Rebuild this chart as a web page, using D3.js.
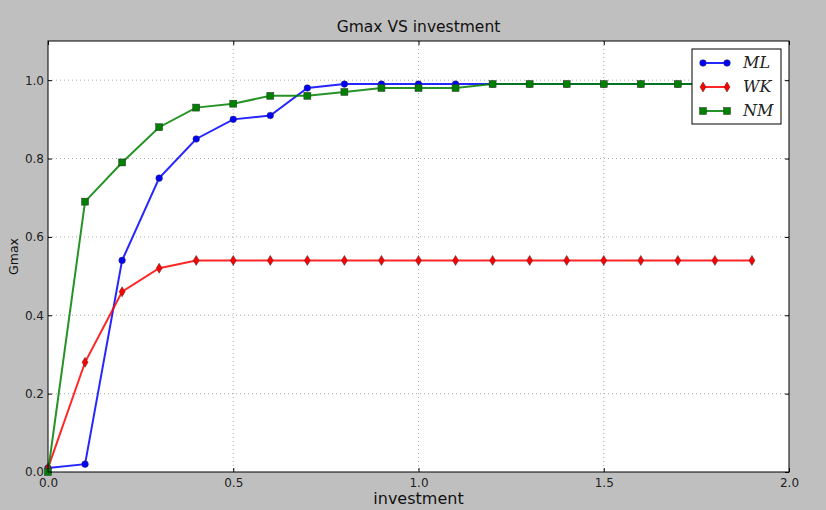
<!DOCTYPE html>
<html><head><meta charset="utf-8">
<script src="https://cdn.jsdelivr.net/npm/d3@7"></script>
<style>body{margin:0;background:#bfbfbf;}svg{display:block;}</style>
</head><body>
<svg id="c" width="826" height="510"></svg>
<script>
const xs = [0,0.1,0.2,0.3,0.4,0.5,0.6,0.7,0.8,0.9,1.0,1.1,1.2,1.3,1.4,1.5,1.6,1.7,1.8,1.9];
const ML = [0.01,0.02,0.54,0.75,0.85,0.90,0.91,0.98,0.99,0.99,0.99,0.99,0.99,0.99,0.99,0.99,0.99,0.99,0.99,0.99];
const WK = [0.01,0.28,0.46,0.52,0.54,0.54,0.54,0.54,0.54,0.54,0.54,0.54,0.54,0.54,0.54,0.54,0.54,0.54,0.54,0.54];
const NM = [0.00,0.69,0.79,0.88,0.93,0.94,0.96,0.96,0.97,0.98,0.98,0.98,0.99,0.99,0.99,0.99,0.99,0.99,0.99,0.99];
const xTicks = [0,0.5,1.0,1.5,2.0];
const yTicks = [0,0.2,0.4,0.6,0.8,1.0];
const seriesNames = ["ML","WK","NM"];
const seriesColors = ["#0000ff","#ff0000","#008000"];
const seriesMarkers = ["circle","diamond","square"];

const svg = d3.select("#c");
svg.append("rect").attr("width",826).attr("height",510).attr("fill","#bfbfbf");
const L=48,R=789,T=41,B=472;
const x = d3.scaleLinear().domain([0,2]).range([L,R]);
const y = d3.scaleLinear().domain([0,1.1]).range([B,T]);
svg.append("rect").attr("x",L).attr("y",T).attr("width",R-L).attr("height",B-T).attr("fill","#fff");

// grid
const g = svg.append("g");
xTicks.forEach(t=>{ if(t>0&&t<2) g.append("line").attr("x1",x(t)).attr("x2",x(t)).attr("y1",T).attr("y2",B).attr("stroke","#999").attr("stroke-width",0.8).attr("stroke-dasharray","1,3");});
yTicks.forEach(t=>{ if(t>0) g.append("line").attr("y1",y(t)).attr("y2",y(t)).attr("x1",L).attr("x2",R).attr("stroke","#999").attr("stroke-width",0.8).attr("stroke-dasharray","1,3");});

// axes
const fontF = "DejaVu Sans, sans-serif";
const xa = svg.append("g").attr("transform",`translate(0,${B})`).call(d3.axisBottom(x).tickValues(xTicks).tickFormat(d3.format(".1f")).tickSizeInner(-4).tickSizeOuter(0));
const ya = svg.append("g").attr("transform",`translate(${L},0)`).call(d3.axisLeft(y).tickValues(yTicks).tickFormat(d3.format(".1f")).tickSizeInner(-4).tickSizeOuter(0));
svg.append("g").attr("transform",`translate(0,${T})`).call(d3.axisTop(x).tickValues(xTicks).tickFormat("").tickSizeInner(-4).tickSizeOuter(0));
svg.append("g").attr("transform",`translate(${R},0)`).call(d3.axisRight(y).tickValues(yTicks).tickFormat("").tickSizeInner(-4).tickSizeOuter(0));
svg.selectAll(".domain").remove();
svg.selectAll(".tick line").attr("stroke","#000");
xa.selectAll("text").attr("font-family",fontF).attr("font-size",12).attr("fill","#222").attr("dy","0.71em").attr("y",6);
ya.selectAll("text").attr("font-family",fontF).attr("font-size",12).attr("fill","#222").attr("x",-4);

const series=[ML,WK,NM];
const line = d3.line().x((d,i)=>x(xs[i])).y(d=>y(d));
function marker(sel,type,color,cx,cy){
  if(type==="circle") sel.append("circle").attr("cx",cx).attr("cy",cy).attr("r",3.3).attr("fill",color).attr("stroke","#333").attr("stroke-width",0.5);
  else if(type==="square") sel.append("rect").attr("x",cx-3.5).attr("y",cy-3.5).attr("width",7).attr("height",7).attr("fill",color).attr("stroke","#333").attr("stroke-width",0.5);
  else sel.append("path").attr("d",`M${cx},${cy-5}L${cx+3},${cy}L${cx},${cy+5}L${cx-3},${cy}Z`).attr("fill",color).attr("stroke","#333").attr("stroke-width",0.5);
}
svg.append("clipPath").attr("id","pc").append("rect").attr("x",L-5).attr("y",T).attr("width",R-L+10).attr("height",B-T+5);
const pg = svg.append("g").attr("clip-path","url(#pc)");
series.forEach((s,k)=>{
  pg.append("path").datum(s).attr("d",line).attr("fill","none").attr("stroke",seriesColors[k]).attr("stroke-width",2).attr("stroke-opacity",0.85);
  s.forEach((v,i)=>marker(pg,seriesMarkers[k],seriesColors[k],x(xs[i]),y(v)));
});

// frame
svg.append("rect").attr("x",L).attr("y",T).attr("width",R-L).attr("height",B-T).attr("fill","none").attr("stroke","#000").attr("stroke-width",1);

// legend
const lg = svg.append("g");
lg.append("rect").attr("x",692).attr("y",49).attr("width",89).attr("height",75).attr("fill","#fff").attr("stroke","#000").attr("stroke-width",1);
seriesNames.forEach((n,k)=>{
  const yy = 63 + k*24;
  lg.append("line").attr("x1",703).attr("x2",727).attr("y1",yy).attr("y2",yy).attr("stroke",seriesColors[k]).attr("stroke-width",2).attr("stroke-opacity",0.85);
  marker(lg,seriesMarkers[k],seriesColors[k],703,yy);
  marker(lg,seriesMarkers[k],seriesColors[k],727,yy);
  lg.append("text").attr("x",743).attr("y",yy+5).text(n).attr("font-family","DejaVu Serif, serif").attr("font-style","italic").attr("font-size",16).attr("fill","#222");
});

// titles
svg.append("text").attr("x",(L+R)/2).attr("y",32).attr("text-anchor","middle").text("Gmax VS investment").attr("font-family",fontF).attr("font-size",15.5).attr("fill","#111");
svg.append("text").attr("x",(L+R)/2).attr("y",504).attr("text-anchor","middle").text("investment").attr("font-family",fontF).attr("font-size",16).attr("fill","#111");
svg.append("text").attr("transform",`translate(18,${(T+B)/2}) rotate(-90)`).attr("text-anchor","middle").text("Gmax").attr("font-family",fontF).attr("font-size",12.5).attr("fill","#111");
</script>
</body></html>
